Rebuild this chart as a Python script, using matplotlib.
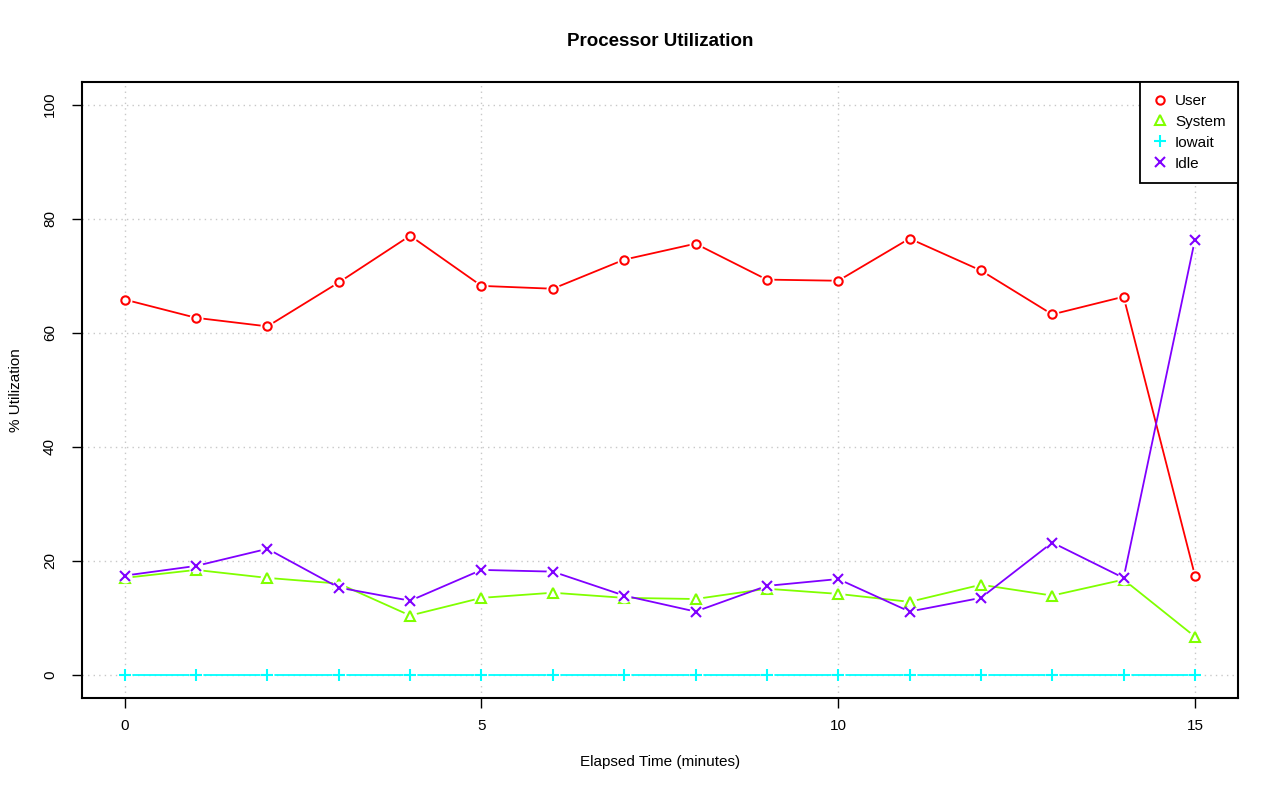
import numpy as np
import matplotlib.pyplot as plt

# --- data ---
minutes = list(range(16))
user = [65.8, 62.6, 61.1, 68.8, 77.0, 68.2, 67.7, 72.8, 75.6, 69.3, 69.1, 76.5, 70.9, 63.2, 66.3, 17.4]
system = [17.0, 18.4, 17.0, 16.0, 10.4, 13.5, 14.4, 13.5, 13.3, 15.1, 14.2, 12.8, 15.8, 13.9, 16.7, 6.7]
iowait = [0.0] * 16
idle = [17.4, 19.1, 22.1, 15.3, 13.0, 18.4, 18.1, 13.9, 11.1, 15.6, 16.8, 11.1, 13.5, 23.2, 17.0, 76.3]

names = ['User', 'System', 'Iowait', 'Idle']
colors = ['#FF0000', '#80FF00', '#00FFFF', '#8000FF']
markers = ['o', '^', '+', 'x']
series = [user, system, iowait, idle]

plt.rcParams['font.family'] = ['Liberation Sans', 'DejaVu Sans']

fig = plt.figure(figsize=(12.8, 8.01), dpi=100)
ax = fig.add_axes([0.064, 0.129, 0.903, 0.769])

ax.set_xlim(-0.6, 15.6)
ax.set_ylim(-4, 104)
ax.set_xticks([0, 5, 10, 15])
ax.set_yticks([0, 20, 40, 60, 80, 100])
for v in range(0, 16, 5):
    ax.axvline(v, color='#c8c8c8', lw=1, ls=(0, (1, 3)), zorder=0)
for v in range(0, 101, 20):
    ax.axhline(v, color='#c8c8c8', lw=1, ls=(0, (1, 3)), zorder=0)

sizes = {'o': 6, '^': 6.5, '+': 9, 'x': 7}
handles = []
for i, (vals, c, m, n) in enumerate(zip(series, colors, markers, names)):
    z = 2 + i * 3
    ax.plot(minutes, vals, color=c, lw=1.3, zorder=z)
    # white gap around points, like R type="b"
    ax.plot(minutes, vals, ls='none', marker='o', ms=10, mfc='white', mec='none', zorder=z + 1)
    h, = ax.plot(minutes, vals, ls='none', marker=m, ms=sizes[m], mfc='none', mec=c, mew=1.5,
                 zorder=z + 2, label=n)
    handles.append(h)

for s in ax.spines.values():
    s.set_linewidth(1.5)
ax.tick_params(axis='both', labelsize=11, length=7, width=1, direction='out', pad=8)
ax.tick_params(axis='y', pad=11)
for lab in ax.get_yticklabels():
    lab.set_rotation(90)
    lab.set_va('center')

ax.set_title('Processor Utilization', fontsize=13.5, fontweight='bold', pad=26)
ax.set_xlabel('Elapsed Time (minutes)', fontsize=11, labelpad=16)
ax.set_ylabel('% Utilization', fontsize=11, labelpad=14)

leg = ax.legend(handles=handles, loc='upper right', fontsize=11, frameon=True, fancybox=False,
                borderaxespad=0, handlelength=1.0, handletextpad=0.5, labelspacing=0.45,
                borderpad=0.8)
leg.get_frame().set_edgecolor('black')
leg.get_frame().set_linewidth(1.3)
leg.get_frame().set_alpha(1)

fig.savefig('out.png', dpi=100)
